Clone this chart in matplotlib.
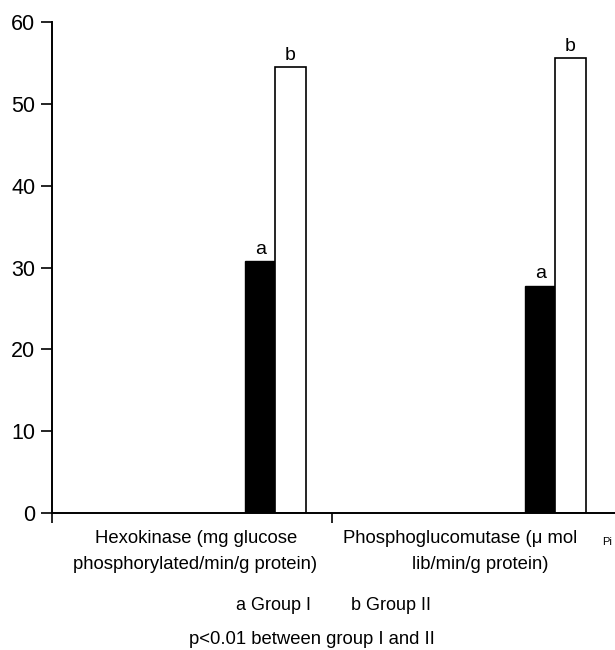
import matplotlib
matplotlib.use("Agg")
import matplotlib.pyplot as plt
import numpy as np

plt.rcParams['font.family'] = ['Liberation Sans', 'DejaVu Sans']

cat_line1 = ["Hexokinase (mg glucose", "Phosphoglucomutase (\u03bc mol"]
cat_line2 = ["phosphorylated/min/g protein)", "lib/min/g protein)"]
group1 = [30.8, 27.8]
group2 = [54.5, 55.6]
labels1 = ["a", "a"]
labels2 = ["b", "b"]
yticks = [0, 10, 20, 30, 40, 50, 60]

fig = plt.figure(figsize=(6.15, 6.5), dpi=100)
ax = fig.add_axes([52/615, 137/650, 563/615, 491/650])

idx = np.arange(len(cat_line1))
w = 0.108
off = 0.69
b1 = ax.bar(idx + off, group1, width=w, align='edge', color='black', edgecolor='black', linewidth=1)
b2 = ax.bar(idx + off + w, group2, width=w, align='edge', color='white', edgecolor='black', linewidth=1.2)

for rect, lab in zip(b1, labels1):
    ax.text(rect.get_x() + rect.get_width()/2, rect.get_height() + 0.4, lab,
            ha='center', va='bottom', fontsize=14)
for rect, lab in zip(b2, labels2):
    ax.text(rect.get_x() + rect.get_width()/2, rect.get_height() + 0.4, lab,
            ha='center', va='bottom', fontsize=14)

ax.set_xlim(0, 563/280)
ax.set_ylim(0, 60)
ax.set_yticks(yticks)
ax.tick_params(axis='y', labelsize=15.5, length=8, width=1.2, direction='out', pad=4)
ax.set_xticks([0, 1])
ax.set_xticklabels([])
ax.tick_params(axis='x', length=7, width=1.2, direction='out')
ax.spines['top'].set_visible(False)
ax.spines['right'].set_visible(False)
ax.spines['left'].set_linewidth(1.4)
ax.spines['bottom'].set_linewidth(1.4)

line1_x = [0.514, 1.457]
line2_x = [0.510, 1.529]
for i in range(len(cat_line1)):
    ax.text(line1_x[i], -2.1, cat_line1[i], ha='center', va='top', fontsize=13.3)
    ax.text(line2_x[i], -5.3, cat_line2[i], ha='center', va='top', fontsize=13.3)
ax.text(1.982, -3.55, "Pi", ha='center', va='center', fontsize=8)

fig.text(334/615, 1 - 605/650, "a Group I        b Group II", ha='center', va='center', fontsize=13)
fig.text(312/615, 1 - 640/650, "p<0.01 between group I and II", ha='center', va='center', fontsize=13.3)

fig.savefig("out.png", dpi=100)
